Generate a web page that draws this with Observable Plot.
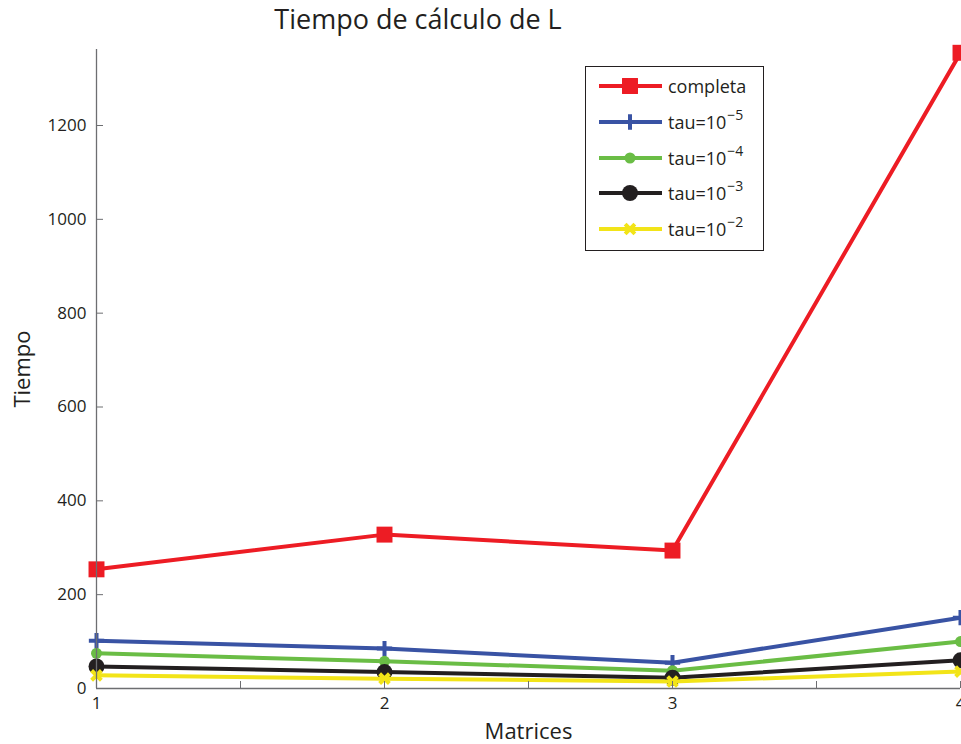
<!DOCTYPE html>
<html>
<head>
<meta charset="utf-8">
<script src="https://cdn.jsdelivr.net/npm/d3@7"></script>
<script src="https://cdn.jsdelivr.net/npm/@observablehq/plot@0.6"></script>
<style>
  body { margin: 0; background: #fff; font-family: "Open Sans", sans-serif; color: #231f20; }
  #wrap { position: relative; width: 961px; height: 744px; overflow: hidden; }
  #title { position: absolute; left: 0; top: 0px; width: 836px; text-align: center; font-size: 27px; }
  #chart { position: absolute; left: 0; top: 40px; }
  #legend { position: absolute; left: 585px; top: 66px; width: 179px; height: 185px; border: 1px solid #231f20;
            background: #fff; box-sizing: border-box; }
  .row { position: absolute; left: 0; height: 24px; width: 176px; }
  .row svg { position: absolute; left: 0; top: 0; }
  .row span { position: absolute; left: 82px; top: 0; font-size: 18px; line-height: 24px; white-space: nowrap; }
  .row sup { font-size: 14px; line-height: 0; vertical-align: baseline; position: relative; top: -9px; margin-left: 1px; }
</style>
</head>
<body>
<div id="wrap">
  <div id="title">Tiempo de cálculo de L</div>
  <div id="chart"></div>
  <div id="legend"></div>
</div>
<script>
// Tiempo de cálculo por matriz, factorización completa y con distintas tolerancias
const matrices = [1, 2, 3, 4];
const completa = [254, 328, 294, 1355];
const tau5 = [102, 85, 55, 151];
const tau4 = [75, 58, 38, 100];
const tau3 = [47, 35, 23, 60];
const tau2 = [28, 21, 15, 36];

const legendLabels = ["completa", "tau=10", "tau=10", "tau=10", "tau=10"];
const legendExponents = ["", "−5", "−4", "−3", "−2"];
const yTicks = [0, 200, 400, 600, 800, 1000, 1200];
const xTicks = [1, 1.5, 2, 2.5, 3, 3.5, 4];

const series = [
  {values: completa, color: "#ed1c24", symbol: "square", r: 9, filled: true},
  {values: tau5, color: "#3953a4", symbol: "plus", r: 5, filled: false},
  {values: tau4, color: "#6abd45", symbol: "circle", r: 5.5, filled: true},
  {values: tau3, color: "#231f20", symbol: "circle", r: 8, filled: true},
  {values: tau2, color: "#f2e418", symbol: "times", r: 4.5, filled: false}
];

const marks = [];
series.forEach((s, i) => {
  const rows = matrices.map((m, j) => ({x: m, y: s.values[j]}));
  marks.push(Plot.line(rows, {x: "x", y: "y", stroke: s.color, strokeWidth: 4, strokeLinejoin: "round"}));
  marks.push(Plot.dot(rows, {
    x: "x", y: "y", symbol: s.symbol, r: s.r,
    fill: s.filled ? s.color : "none",
    stroke: s.color, strokeWidth: s.filled ? 0 : 4
  }));
});

const axisColor = "#6d6e71";
const chart = Plot.plot({
  width: 961,
  height: 704,
  marginTop: 9,
  marginBottom: 56,
  marginLeft: 96,
  marginRight: 1,
  style: {fontFamily: "Open Sans, sans-serif", fontSize: "17px", color: "#231f20", overflow: "visible"},
  x: {domain: [1, 4]},
  y: {domain: [0, 1362]},
  marks: [
    ...marks,
    Plot.ruleX([1], {stroke: axisColor, strokeWidth: 1.3}),
    Plot.ruleY([0], {stroke: axisColor, strokeWidth: 1.3}),
    Plot.axisX(xTicks, {tickSize: -7, tickPadding: 15, stroke: axisColor, fill: "#231f20",
      tickFormat: d => Number.isInteger(d) ? String(d) : "", label: null}),
    Plot.axisY(yTicks, {tickSize: -7, tickPadding: 17, stroke: axisColor, fill: "#231f20",
      tickFormat: d => String(d), label: null}),
    Plot.text(["Matrices"], {frameAnchor: "bottom", dy: 50, fontSize: 22, fill: "#231f20"}),
    Plot.text(["Tiempo"], {frameAnchor: "left", dx: -74, rotate: -90, textAnchor: "middle", fontSize: 22, fill: "#231f20"})
  ]
});
document.getElementById("chart").appendChild(chart);

// Leyenda
const legend = d3.select("#legend");
const symbolTypes = {square: d3.symbolSquare, plus: d3.symbolPlus, circle: d3.symbolCircle, times: d3.symbolTimes};
series.forEach((s, i) => {
  const row = legend.append("div").attr("class", "row").style("top", (7 + i * 35.8) + "px");
  const svg = row.append("svg").attr("width", 80).attr("height", 24);
  svg.append("line").attr("x1", 13).attr("x2", 76).attr("y1", 12).attr("y2", 12)
    .attr("stroke", s.color).attr("stroke-width", 4);
  svg.append("path").attr("transform", "translate(44,12)")
    .attr("d", d3.symbol(symbolTypes[s.symbol], s.r * s.r * Math.PI)())
    .attr("fill", s.filled ? s.color : "none")
    .attr("stroke", s.color).attr("stroke-width", s.filled ? 0 : 4);
  const span = row.append("span").text(legendLabels[i]);
  if (legendExponents[i]) span.append("sup").text(legendExponents[i]);
});
</script>
</body>
</html>
